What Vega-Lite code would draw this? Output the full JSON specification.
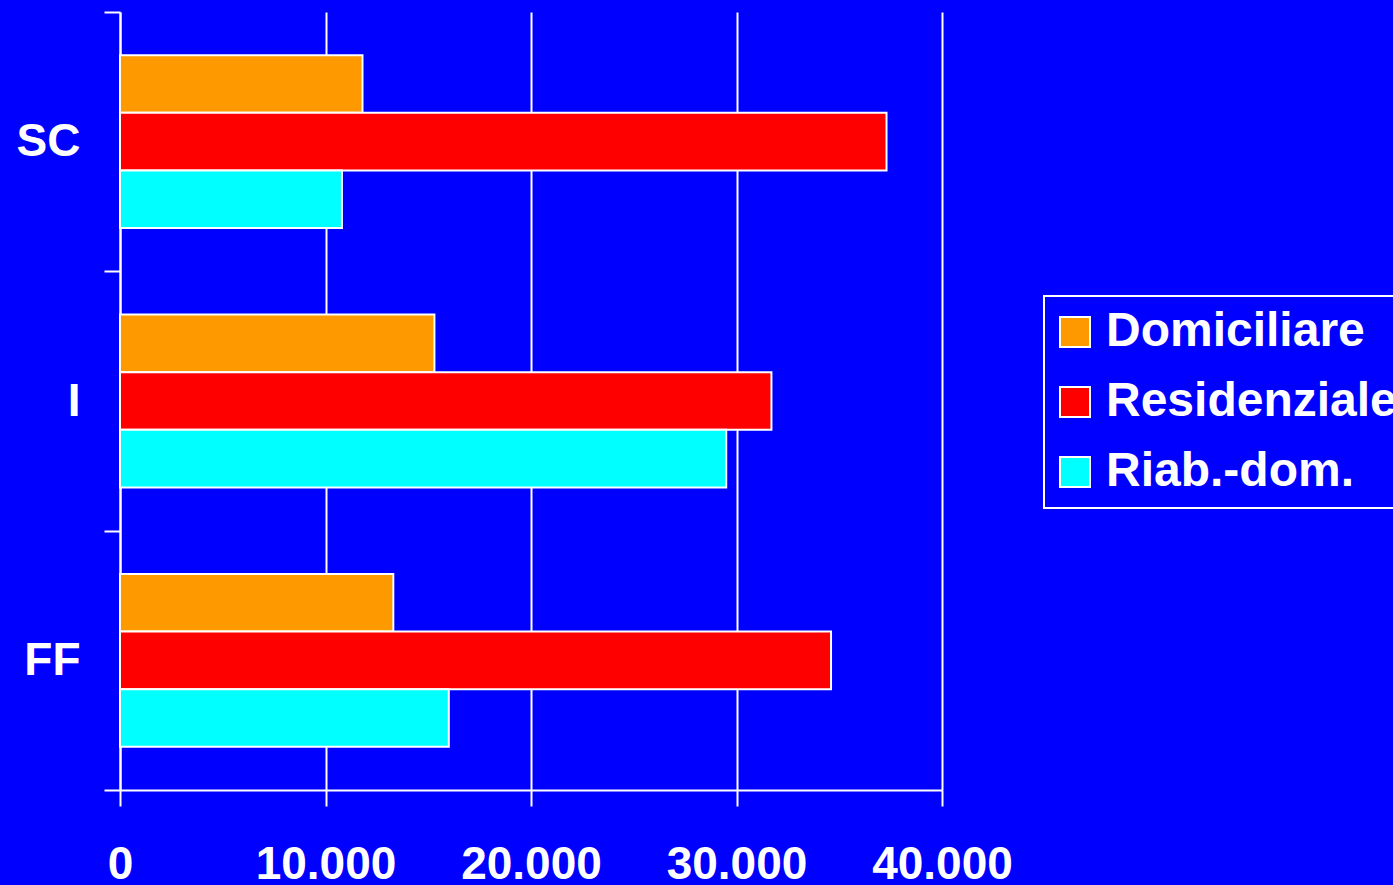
{
  "$schema": "https://vega.github.io/schema/vega-lite/v6.json",
  "width": 822,
  "height": 778,
  "autosize": {"type": "none"},
  "padding": {"left": 120, "top": 12, "right": 451, "bottom": 95},
  "background": "#0000FF",
  "config": {
    "view": {"stroke": null},
    "font": "Liberation Sans",
    "axis": {
      "labelFont": "Liberation Sans",
      "labelFontWeight": "bold",
      "labelFontSize": 46,
      "labelColor": "#FFFFFF",
      "domainColor": "#FFFFFF",
      "domainWidth": 2,
      "tickColor": "#FFFFFF",
      "tickWidth": 2,
      "tickSize": 16,
      "title": null
    },
    "legend": {
      "labelFont": "Liberation Sans",
      "labelFontWeight": "bold",
      "labelFontSize": 48,
      "labelColor": "#FFFFFF",
      "labelLimit": 0
    }
  },
  "data": {
    "values": [
      {"gruppo": "SC", "servizio": "Domiciliare", "valore": 11800},
      {"gruppo": "SC", "servizio": "Residenziale", "valore": 37300},
      {"gruppo": "SC", "servizio": "Riab.-dom.", "valore": 10800},
      {"gruppo": "I", "servizio": "Domiciliare", "valore": 15300},
      {"gruppo": "I", "servizio": "Residenziale", "valore": 31700},
      {"gruppo": "I", "servizio": "Riab.-dom.", "valore": 29500},
      {"gruppo": "FF", "servizio": "Domiciliare", "valore": 13300},
      {"gruppo": "FF", "servizio": "Residenziale", "valore": 34600},
      {"gruppo": "FF", "servizio": "Riab.-dom.", "valore": 16000}
    ]
  },
  "mark": {"type": "bar", "stroke": "#FFFFFF", "strokeWidth": 2},
  "encoding": {
    "y": {
      "field": "gruppo",
      "type": "nominal",
      "sort": ["SC", "I", "FF"],
      "scale": {"paddingInner": 0, "paddingOuter": 0},
      "axis": {
        "tickBand": "extent",
        "labelPadding": 24,
        "labelAngle": 0
      }
    },
    "yOffset": {
      "field": "servizio",
      "type": "nominal",
      "sort": ["Domiciliare", "Residenziale", "Riab.-dom."],
      "scale": {"paddingInner": 0, "paddingOuter": 0.75}
    },
    "x": {
      "field": "valore",
      "type": "quantitative",
      "scale": {"domain": [0, 40000], "nice": false},
      "axis": {
        "values": [0, 10000, 20000, 30000, 40000],
        "grid": true,
        "gridColor": "#FFFFFF",
        "gridWidth": 2,
        "gridOpacity": 1,
        "labelPadding": 36,
        "labelFlush": false,
        "labelExpr": "replace(format(datum.value, ','), ',', '.')"
      }
    },
    "color": {
      "field": "servizio",
      "type": "nominal",
      "scale": {
        "domain": ["Domiciliare", "Residenziale", "Riab.-dom."],
        "range": ["#FF9900", "#FF0000", "#00FFFF"]
      },
      "legend": {
        "title": null,
        "orient": "none",
        "legendX": 924,
        "legendY": 284,
        "symbolType": "square",
        "symbolSize": 900,
        "symbolStrokeColor": "#FFFFFF",
        "symbolStrokeWidth": 2,
        "symbolOpacity": 1,
        "symbolOffset": -5,
        "labelOffset": 7,
        "rowPadding": 22,
        "padding": 12,
        "strokeColor": "#FFFFFF",
        "encode": {
          "legend": {"update": {"strokeWidth": {"value": 2}}}
        }
      }
    }
  }
}
